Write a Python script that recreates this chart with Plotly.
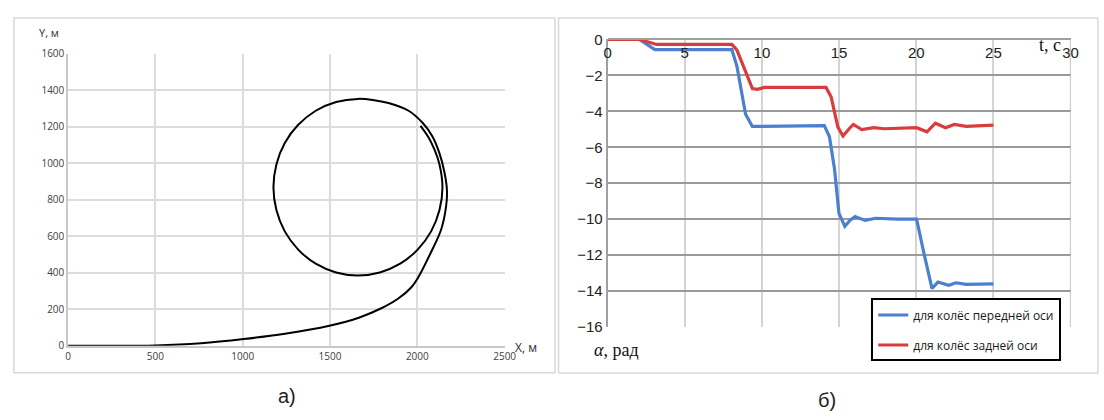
import plotly.graph_objects as go

# ---- Panel a): trajectory (read off the picture) ----
traj_x = [0, 198, 498, 762, 1006, 1251, 1496, 1665, 1797, 1891, 1966, 2004, 2079, 2136, 2164,
          2170, 2155, 2126, 2085, 2030, 1950, 1835, 1745,
          1660, 1535, 1418, 1318, 1241, 1193, 1176, 1193, 1241, 1318, 1418, 1535,
          1660, 1785, 1902, 2002, 2079, 2127, 2144, 2127, 2099, 2062, 2018]
traj_y = [0, 0, 2, 14, 37, 67, 110, 154, 207, 259, 321, 373, 514, 636, 759,
          847, 952, 1057, 1150, 1222, 1288, 1330, 1347,
          1353, 1336, 1288, 1211, 1111, 994, 869, 744, 627, 527, 450, 402,
          385, 402, 450, 527, 627, 744, 869, 994, 1073, 1145, 1205]
x_ticks_a = [0, 500, 1000, 1500, 2000, 2500]
y_ticks_a = [0, 200, 400, 600, 800, 1000, 1200, 1400, 1600]

# ---- Panel б): steering angles ----
t_front = [0, 2.06, 3.06, 8.05, 8.38, 8.94, 9.38, 9.93, 14.04, 14.37, 14.7, 14.99, 15.37,
           15.7, 16.03, 16.7, 17.36, 18.8, 20.02, 20.47, 21.02, 21.4, 22.1, 22.57, 23.24, 25.0]
a_front = [0, 0, -0.57, -0.57, -1.5, -4.16, -4.84, -4.84, -4.8, -5.4, -7.2, -9.68, -10.4,
           -10.07, -9.86, -10.07, -9.95, -10.0, -10.0, -11.8, -13.86, -13.5, -13.68, -13.54, -13.63, -13.6]
t_rear = [0, 2.06, 3.17, 8.05, 8.38, 8.94, 9.38, 9.71, 10.15, 14.15, 14.48, 14.92, 15.25,
          15.65, 15.92, 16.47, 17.25, 17.92, 20.02, 20.69, 21.24, 21.9, 22.46, 23.24, 25.0]
a_rear = [0, 0, -0.28, -0.28, -0.6, -1.85, -2.74, -2.78, -2.67, -2.67, -3.19, -4.88, -5.37,
          -4.97, -4.73, -5.02, -4.91, -4.97, -4.91, -5.14, -4.66, -4.91, -4.73, -4.84, -4.77]
x_ticks_b = [0, 5, 10, 15, 20, 25, 30]
y_ticks_b = [0, -2, -4, -6, -8, -10, -12, -14, -16]
series_names = ["для колёс передней оси", "для колёс задней оси"]

W, H = 1104, 420
def px(x): return x / W
def py(y): return 1 - y / H

fig = go.Figure()
fig.add_trace(go.Scatter(x=traj_x, y=traj_y, mode="lines",
                         line=dict(color="black", width=2, shape="spline", smoothing=1.0),
                         xaxis="x", yaxis="y", showlegend=False))
fig.add_trace(go.Scatter(x=t_front, y=a_front, mode="lines", name=series_names[0],
                         line=dict(color="#4a80cf", width=3.2), xaxis="x2", yaxis="y2",
                         legendgroup="f"))
fig.add_trace(go.Scatter(x=t_rear, y=a_rear, mode="lines", name=series_names[1],
                         line=dict(color="#d83c3c", width=3.2), xaxis="x2", yaxis="y2",
                         legendgroup="r"))

tick_font_a = dict(family="Open Sans, Liberation Sans, sans-serif", size=10, color="#404040")
tick_font_b = dict(family="Liberation Sans, Arial, sans-serif", size=15, color="#222222")

y_top_b = py(31.7)
fig.update_layout(
    width=W, height=H, margin=dict(l=0, r=0, t=0, b=0),
    paper_bgcolor="white", plot_bgcolor="white",
    xaxis=dict(domain=[px(65), px(508)], range=[0, 2500], tickvals=x_ticks_a, showgrid=True,
               gridcolor="#dcdcdc", gridwidth=1.5, zeroline=False, showline=True, linecolor="#c8c8c8",
               linewidth=1.5, tickfont=tick_font_a, ticks="", anchor="y", fixedrange=True),
    yaxis=dict(domain=[py(351), py(46.7)], range=[0, 1600], tickvals=y_ticks_a, showgrid=True,
               gridcolor="#dcdcdc", gridwidth=1.5, zeroline=False, showline=True, linecolor="#c8c8c8",
               linewidth=1.5, tickfont=tick_font_a, ticks="", anchor="x", fixedrange=True),
    xaxis2=dict(domain=[px(612.5), px(1082.3)], range=[0, 30], tickvals=x_ticks_b, side="bottom",
                anchor="free", position=y_top_b, showgrid=True, gridcolor="#d4d4d4", gridwidth=1.5,
                zeroline=False, showline=True, linecolor="#a0a0a0", linewidth=2,
                tickfont=tick_font_b, ticks="", fixedrange=True),
    yaxis2=dict(domain=[py(331.4), y_top_b], range=[-16, 0], tickvals=y_ticks_b, showgrid=True,
                gridcolor="#9a9a9a", gridwidth=1.5, zeroline=False, showline=True, linecolor="#a0a0a0",
                linewidth=2, tickfont=tick_font_b, ticks="", anchor="x2", fixedrange=True),
    legend=dict(x=px(880), y=py(301.7), xanchor="left", yanchor="top", bgcolor="white",
                bordercolor="black", borderwidth=2, tracegroupgap=11,
                font=dict(family="Open Sans, Liberation Sans, sans-serif", size=12, color="#1a1a1a")),
    showlegend=True,
)

shapes = [
    dict(type="rect", xref="paper", yref="paper", x0=px(10), x1=px(559), y0=py(379), y1=py(9.3),
         line=dict(color="#d9d9d9", width=1.5)),
    dict(type="rect", xref="paper", yref="paper", x0=px(562.7), x1=px(1110), y0=py(379.3), y1=py(9.3),
         line=dict(color="#d9d9d9", width=1.5)),
    dict(type="line", xref="x2", yref="y2", x0=30, x1=30, y0=-16, y1=0,
         line=dict(color="#b0b0b0", width=1.5)),
]
fig.update_layout(shapes=shapes)

ann = [
    dict(text="Y, м", x=px(33), y=py(25), xanchor="left", yanchor="middle",
         font=dict(family="Open Sans, Liberation Sans, sans-serif", size=11, color="#303030")),
    dict(text="X, м", x=px(516), y=py(353), xanchor="left", yanchor="middle",
         font=dict(family="Open Sans, Liberation Sans, sans-serif", size=12, color="#303030")),
    dict(text="a)", x=px(287.5), y=py(403), xanchor="center", yanchor="middle",
         font=dict(family="Liberation Sans, Arial, sans-serif", size=20, color="#222222")),
    dict(text="б)", x=px(835), y=py(408), xanchor="center", yanchor="middle",
         font=dict(family="Liberation Sans, Arial, sans-serif", size=20, color="#222222")),
    dict(text="t, с", x=px(1061), y=py(37), xanchor="center", yanchor="middle",
         font=dict(family="Liberation Serif, DejaVu Serif, serif", size=18, color="#111111")),
    dict(text="<i>α</i>, рад", x=px(597), y=py(355), xanchor="left", yanchor="middle",
         font=dict(family="Liberation Serif, DejaVu Serif, serif", size=18, color="#111111")),
]
for a in ann:
    a.update(xref="paper", yref="paper", showarrow=False)
fig.update_layout(annotations=ann)

fig.write_html("out.html", config={"displayModeBar": False},
               post_script="document.body.style.margin='0';document.body.style.overflow='hidden';")
